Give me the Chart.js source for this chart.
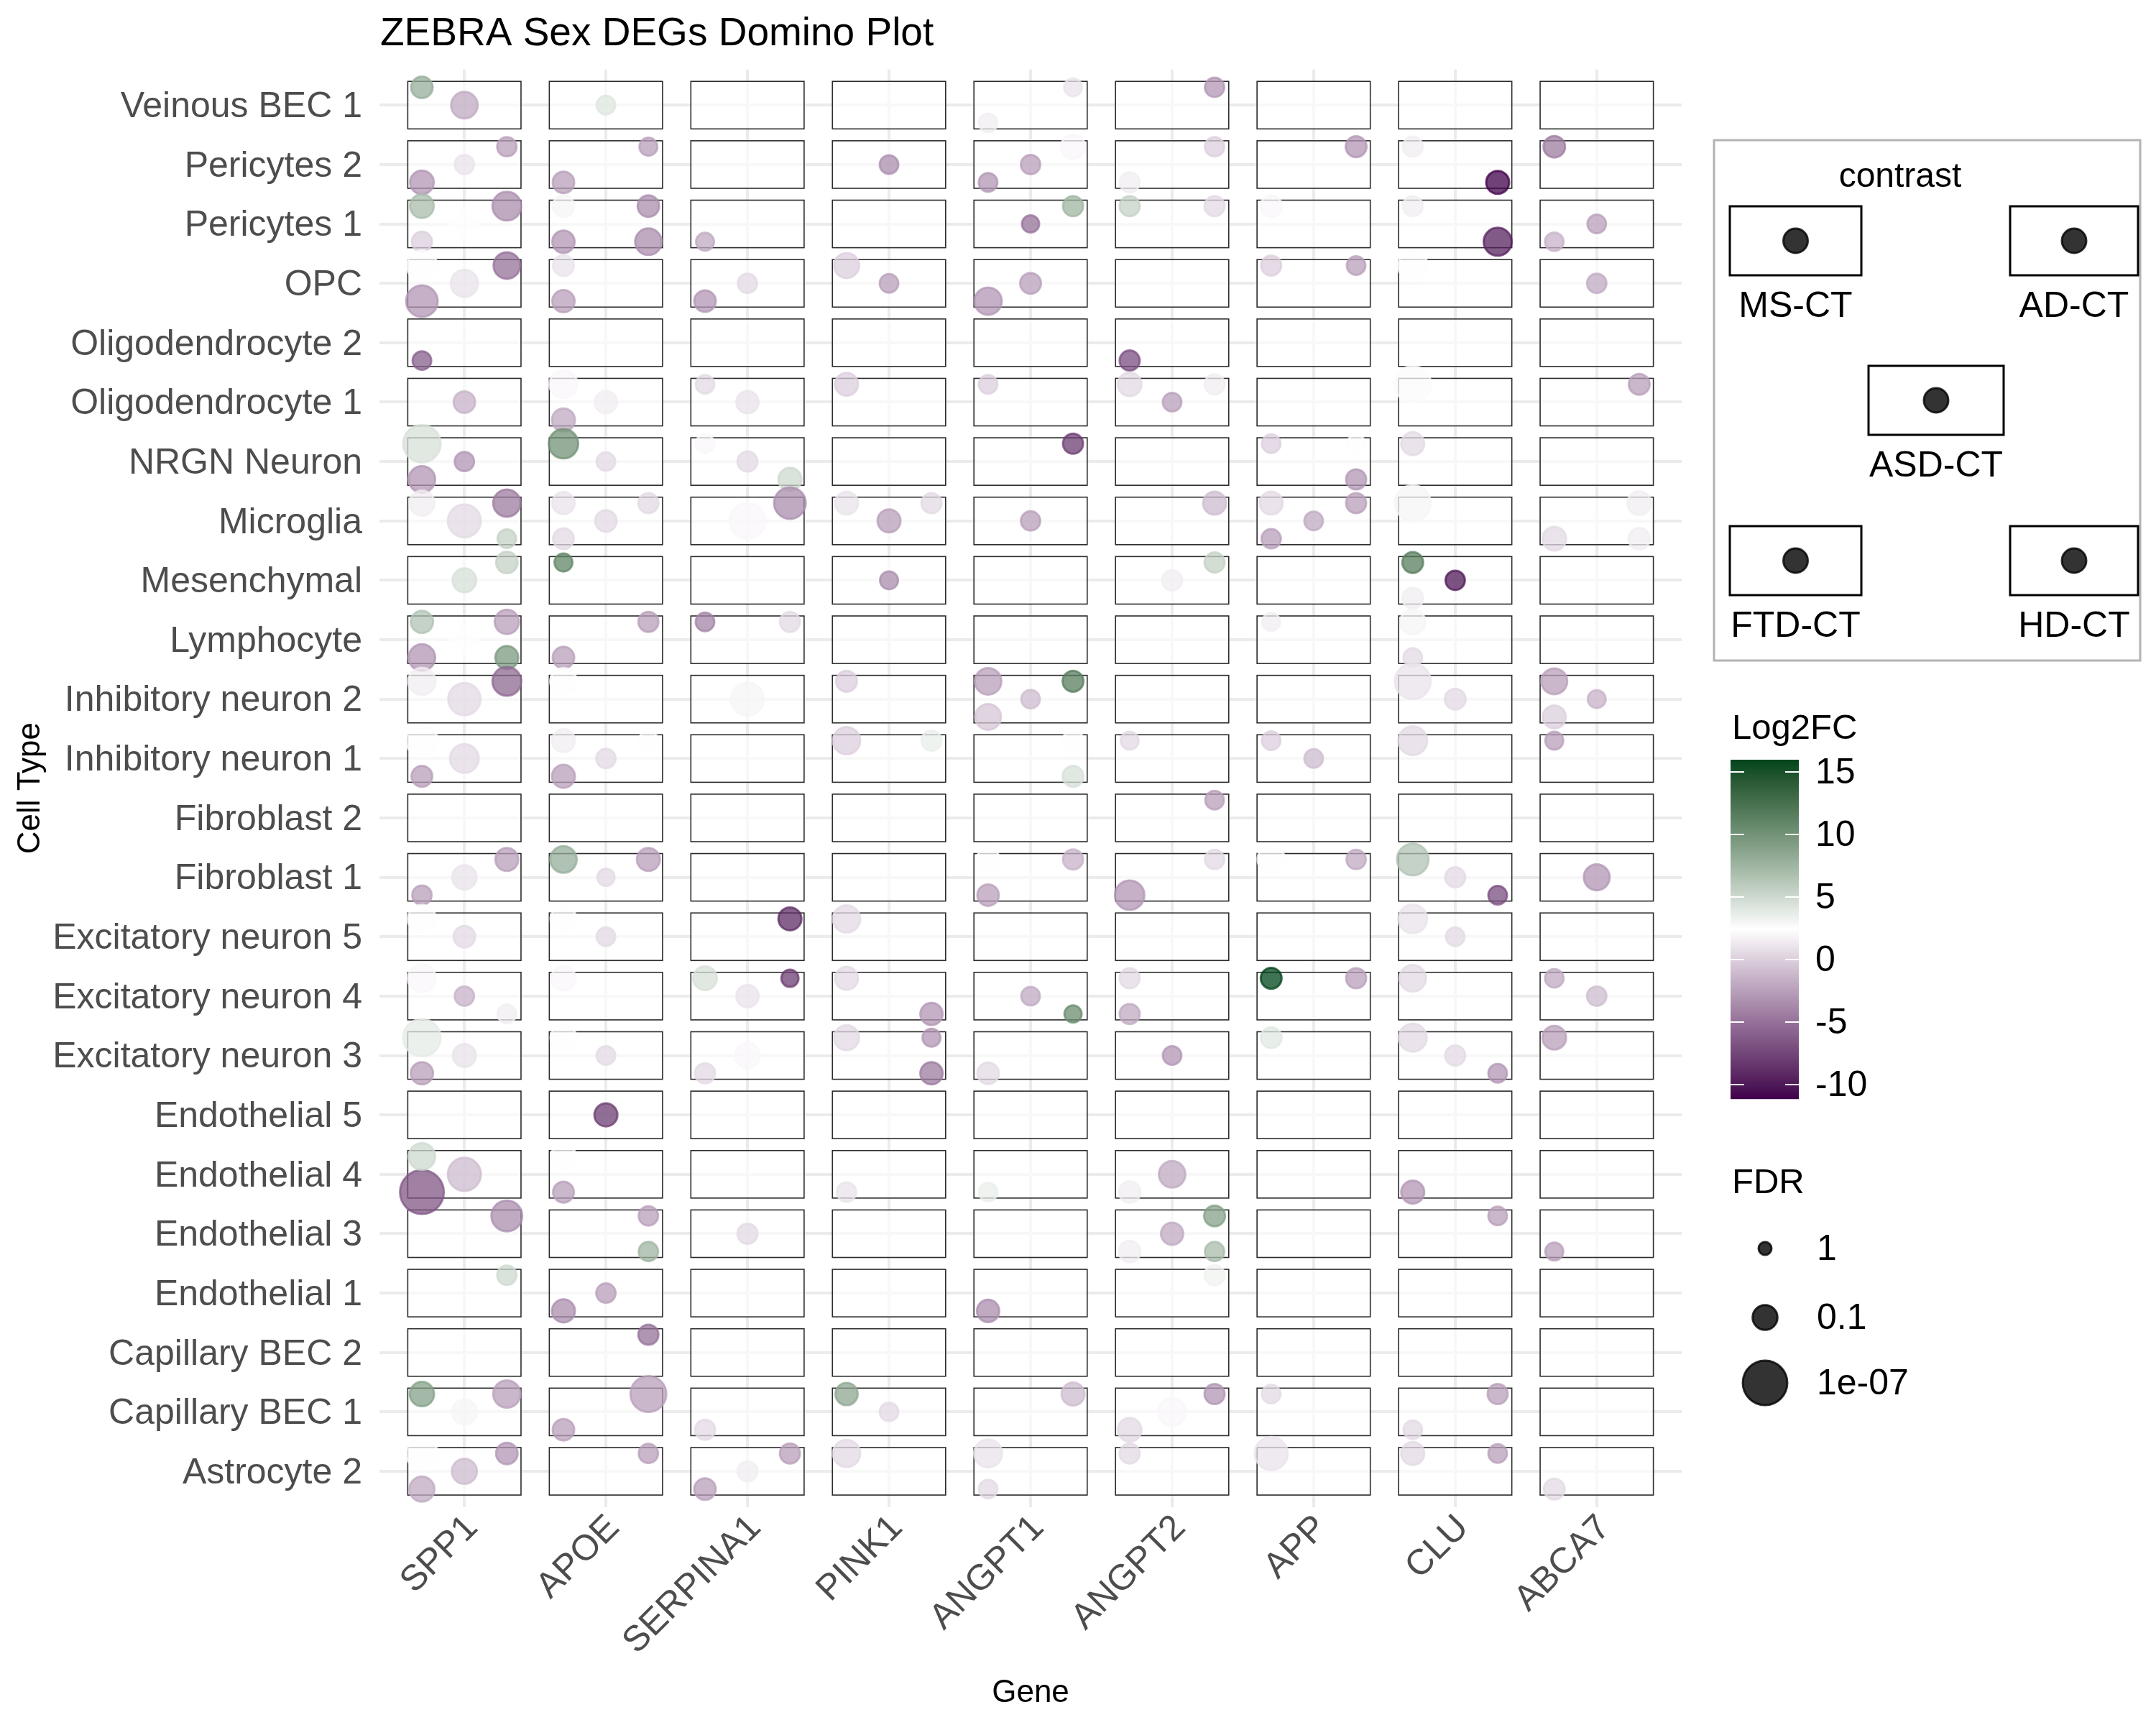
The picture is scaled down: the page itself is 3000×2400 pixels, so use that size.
<!DOCTYPE html>
<html>
<head>
<meta charset="utf-8">
<script src="https://cdn.jsdelivr.net/npm/chart.js@4"></script>
<style>
html,body{margin:0;padding:0;background:#ffffff;}
#wrap{width:3000px;height:2400px;position:relative;}
</style>
</head>
<body>
<div id="wrap"><canvas id="c" width="3000" height="2400"></canvas></div>
<script>
// ---------- DATA ----------
const genes = ['SPP1','APOE','SERPINA1','PINK1','ANGPT1','ANGPT2','APP','CLU','ABCA7'];
// bottom to top
const cellTypes = ['Astrocyte 2','Capillary BEC 1','Capillary BEC 2','Endothelial 1','Endothelial 3','Endothelial 4','Endothelial 5','Excitatory neuron 3','Excitatory neuron 4','Excitatory neuron 5','Fibroblast 1','Fibroblast 2','Inhibitory neuron 1','Inhibitory neuron 2','Lymphocyte','Mesenchymal','Microglia','NRGN Neuron','Oligodendrocyte 1','Oligodendrocyte 2','OPC','Pericytes 1','Pericytes 2','Veinous BEC 1'];
const contrasts = ['MS-CT','AD-CT','ASD-CT','FTD-CT','HD-CT'];
const fcTicks = [15,10,5,0,-5,-10];
const fdrBreaks = [1, 0.1, 1e-7];
const fdrLabels = ['1','0.1','1e-07'];
const fcLimits = [-11.15, 15.98];

// [gene, cell type, Log2FC, FDR]
const msCT = [
 ['SPP1','Veinous BEC 1',8,0.3],
 ['CLU','Pericytes 2',1.5,0.43],['ABCA7','Pericytes 2',-4.5,0.3],
 ['SPP1','Pericytes 1',7,0.15],['APOE','Pericytes 1',3,0.3],['ANGPT2','Pericytes 1',5.5,0.43],['APP','Pericytes 1',2,0.3],['CLU','Pericytes 1',1.5,0.43],
 ['SPP1','OPC',2.5,0.008],['APOE','OPC',1,0.36],['PINK1','OPC',0,0.09],['APP','OPC',0,0.43],['CLU','OPC',2.5,0.012],
 ['APOE','Oligodendrocyte 1',2,0.025],['SERPINA1','Oligodendrocyte 1',0.5,0.59],['PINK1','Oligodendrocyte 1',0,0.19],['ANGPT1','Oligodendrocyte 1',0,0.59],['ANGPT2','Oligodendrocyte 1',0.5,0.15],['CLU','Oligodendrocyte 1',2.2,1.1e-4],
 ['SPP1','NRGN Neuron',4.5,6e-5],['APOE','NRGN Neuron',10,0.012],['SERPINA1','NRGN Neuron',2,0.59],['APP','NRGN Neuron',0,0.59],['CLU','NRGN Neuron',0.5,0.19],
 ['SPP1','Microglia',1.5,0.09],['APOE','Microglia',1,0.24],['PINK1','Microglia',1,0.19],['APP','Microglia',0.5,0.19],['CLU','Microglia',3,2e-4],
 ['APOE','Mesenchymal',11,0.66],['CLU','Mesenchymal',11.5,0.36],
 ['SPP1','Lymphocyte',6.5,0.24],['SERPINA1','Lymphocyte',-4,0.59],['APP','Lymphocyte',1.5,0.66],['CLU','Lymphocyte',3,0.09],
 ['SPP1','Inhibitory neuron 2',1.5,0.035],['APOE','Inhibitory neuron 2',2.5,0.049],['PINK1','Inhibitory neuron 2',0,0.36],['ANGPT1','Inhibitory neuron 2',-2.5,0.049],['CLU','Inhibitory neuron 2',1,2e-4],['ABCA7','Inhibitory neuron 2',-2.5,0.066],
 ['SPP1','Inhibitory neuron 1',2.5,0.0035],['APOE','Inhibitory neuron 1',1.5,0.19],['PINK1','Inhibitory neuron 1',0,0.035],['ANGPT2','Inhibitory neuron 1',0.5,0.66],['APP','Inhibitory neuron 1',0,0.59],['CLU','Inhibitory neuron 1',0.5,0.017],['ABCA7','Inhibitory neuron 1',-2.5,0.66],
 ['APOE','Fibroblast 1',8,0.049],['ANGPT1','Fibroblast 1',2.5,0.19],['APP','Fibroblast 1',2.5,0.035],['CLU','Fibroblast 1',6.5,0.0035],
 ['SPP1','Excitatory neuron 5',2.5,0.025],['APOE','Excitatory neuron 5',2.5,0.066],['PINK1','Excitatory neuron 5',0.5,0.035],['CLU','Excitatory neuron 5',1,0.017],
 ['SPP1','Excitatory neuron 4',2,0.025],['APOE','Excitatory neuron 4',2,0.12],['SERPINA1','Excitatory neuron 4',4.5,0.15],['PINK1','Excitatory neuron 4',0.5,0.19],['ANGPT2','Excitatory neuron 4',0.5,0.43],['APP','Excitatory neuron 4',15.98,0.36],['CLU','Excitatory neuron 4',0.5,0.049],['ABCA7','Excitatory neuron 4',-2,0.59],
 ['SPP1','Excitatory neuron 3',3.8,6e-5],['APOE','Excitatory neuron 3',2.5,0.066],['PINK1','Excitatory neuron 3',0.5,0.09],['APP','Excitatory neuron 3',4,0.36],['CLU','Excitatory neuron 3',0.5,0.025],['ABCA7','Excitatory neuron 3',-2.5,0.15],
 ['SPP1','Endothelial 4',5,0.049],['APOE','Endothelial 4',2.5,0.09],
 ['SPP1','Capillary BEC 1',9,0.12],['PINK1','Capillary BEC 1',8.5,0.24],['APP','Capillary BEC 1',0.5,0.59],
 ['SPP1','Astrocyte 2',2.5,0.0035],['PINK1','Astrocyte 2',0.5,0.035],['ANGPT1','Astrocyte 2',1,0.025],['ANGPT2','Astrocyte 2',0.5,0.43],['APP','Astrocyte 2',1,0.0014],['CLU','Astrocyte 2',0.5,0.19]
];

const adCT = [
 ['ANGPT1','Veinous BEC 1',1,0.66],['ANGPT2','Veinous BEC 1',-3,0.51],
 ['SPP1','Pericytes 2',-2.5,0.51],['APOE','Pericytes 2',-2.5,0.66],['ANGPT1','Pericytes 2',2,0.12],['ANGPT2','Pericytes 2',0,0.51],['APP','Pericytes 2',-3,0.36],
 ['SPP1','Pericytes 1',-3.5,0.017],['APOE','Pericytes 1',-3.5,0.3],['ANGPT1','Pericytes 1',7.5,0.43],['ANGPT2','Pericytes 1',0.5,0.43],
 ['SPP1','OPC',-5,0.049],['APP','OPC',-2.5,0.59],
 ['ANGPT2','Oligodendrocyte 1',1.5,0.43],['ABCA7','Oligodendrocyte 1',-2.5,0.36],
 ['ANGPT1','NRGN Neuron',-8,0.43],['APP','NRGN Neuron',2.5,0.66],
 ['SPP1','Microglia',-4.5,0.035],['APOE','Microglia',0.5,0.43],['SERPINA1','Microglia',-3.5,0.0035],['PINK1','Microglia',0.5,0.43],['ANGPT2','Microglia',-1,0.19],['APP','Microglia',-2.5,0.43],['ABCA7','Microglia',1.5,0.15],
 ['SPP1','Mesenchymal',5.5,0.3],['ANGPT2','Mesenchymal',5.5,0.43],
 ['SPP1','Lymphocyte',-2.5,0.12],['APOE','Lymphocyte',-2.5,0.43],['SERPINA1','Lymphocyte',0.5,0.43],
 ['SPP1','Inhibitory neuron 2',-5.5,0.017],['ANGPT1','Inhibitory neuron 2',11.5,0.36],
 ['APOE','Inhibitory neuron 1',2.5,0.51],['PINK1','Inhibitory neuron 1',3.5,0.43],['ANGPT1','Inhibitory neuron 1',2.5,0.36],
 ['ANGPT2','Fibroblast 2',-2.5,0.59],
 ['SPP1','Fibroblast 1',-2.5,0.19],['APOE','Fibroblast 1',-2.5,0.19],['ANGPT1','Fibroblast 1',-1.5,0.43],['ANGPT2','Fibroblast 1',0.5,0.51],['APP','Fibroblast 1',-2,0.51],
 ['SERPINA1','Excitatory neuron 5',-9,0.19],
 ['SERPINA1','Excitatory neuron 4',-8,0.74],['APP','Excitatory neuron 4',-2.5,0.43],
 ['PINK1','Excitatory neuron 3',-3,0.66],
 ['SPP1','Endothelial 3',-3.5,0.0054],['APOE','Endothelial 3',-2.5,0.51],['ANGPT2','Endothelial 3',9,0.36],['CLU','Endothelial 3',-2.5,0.59],
 ['SPP1','Endothelial 1',5,0.51],['ANGPT2','Endothelial 1',3.2,0.43],
 ['APOE','Capillary BEC 2',-5,0.43],
 ['SPP1','Capillary BEC 1',-2.5,0.035],['APOE','Capillary BEC 1',-2.5,2e-4],['ANGPT1','Capillary BEC 1',-1,0.19],['ANGPT2','Capillary BEC 1',-3,0.43],['CLU','Capillary BEC 1',-2.5,0.43],
 ['SPP1','Astrocyte 2',-3,0.3],['APOE','Astrocyte 2',-2.5,0.51],['SERPINA1','Astrocyte 2',-2.5,0.43],['CLU','Astrocyte 2',-2.5,0.59]
];

const asdCT = [
 ['SPP1','Veinous BEC 1',-2,0.049],['APOE','Veinous BEC 1',4.2,0.59],
 ['SPP1','Pericytes 2',1,0.51],['PINK1','Pericytes 2',-3.5,0.59],['ANGPT1','Pericytes 2',-2.5,0.51],
 ['SPP1','Pericytes 1',2.5,0.017],['ANGPT1','Pericytes 1',-5,0.74],['ABCA7','Pericytes 1',-2.5,0.59],
 ['SPP1','OPC',1,0.035],['SERPINA1','OPC',0.5,0.51],['PINK1','OPC',-2.5,0.59],['ANGPT1','OPC',-2.5,0.36],['ABCA7','OPC',-2,0.51],
 ['SPP1','Oligodendrocyte 1',-1.5,0.3],['APOE','Oligodendrocyte 1',1.5,0.24],['SERPINA1','Oligodendrocyte 1',1,0.24],['ANGPT2','Oligodendrocyte 1',-2.5,0.59],
 ['SPP1','NRGN Neuron',-3,0.51],['APOE','NRGN Neuron',0.5,0.59],['SERPINA1','NRGN Neuron',0.5,0.43],
 ['SPP1','Microglia',0.5,0.0014],['APOE','Microglia',0.5,0.3],['SERPINA1','Microglia',2,2e-4],['PINK1','Microglia',-2.5,0.19],['ANGPT1','Microglia',-2.5,0.51],['APP','Microglia',-2,0.59],
 ['SPP1','Mesenchymal',4.5,0.15],['PINK1','Mesenchymal',-3.5,0.66],['ANGPT2','Mesenchymal',1.5,0.43],['CLU','Mesenchymal',-10,0.51],
 ['SPP1','Lymphocyte',2.5,0.025],
 ['SPP1','Inhibitory neuron 2',0.5,0.0022],['SERPINA1','Inhibitory neuron 2',3,0.0014],['ANGPT1','Inhibitory neuron 2',-1,0.59],['CLU','Inhibitory neuron 2',0.5,0.36],['ABCA7','Inhibitory neuron 2',-1.5,0.66],
 ['SPP1','Inhibitory neuron 1',0.5,0.017],['APOE','Inhibitory neuron 1',0.5,0.51],['APP','Inhibitory neuron 1',-1,0.59],
 ['SPP1','Fibroblast 1',1,0.12],['APOE','Fibroblast 1',0.5,0.74],['CLU','Fibroblast 1',0.5,0.43],['ABCA7','Fibroblast 1',-3,0.066],
 ['SPP1','Excitatory neuron 5',0.5,0.3],['APOE','Excitatory neuron 5',0.5,0.59],['CLU','Excitatory neuron 5',0.5,0.59],
 ['SPP1','Excitatory neuron 4',-1.5,0.51],['SERPINA1','Excitatory neuron 4',1,0.24],['ANGPT1','Excitatory neuron 4',-2,0.59],['ABCA7','Excitatory neuron 4',-1,0.51],
 ['SPP1','Excitatory neuron 3',1,0.19],['APOE','Excitatory neuron 3',0.5,0.59],['SERPINA1','Excitatory neuron 3',2,0.09],['ANGPT2','Excitatory neuron 3',-3,0.59],['CLU','Excitatory neuron 3',0.5,0.43],
 ['APOE','Endothelial 5',-8,0.19],
 ['SPP1','Endothelial 4',-1,0.0014],['ANGPT2','Endothelial 4',-2,0.049],
 ['SERPINA1','Endothelial 3',0.5,0.43],['ANGPT2','Endothelial 3',-2,0.24],
 ['APOE','Endothelial 1',-2.5,0.51],
 ['SPP1','Capillary BEC 1',3,0.09],['PINK1','Capillary BEC 1',0.5,0.59],['ANGPT2','Capillary BEC 1',2,0.025],
 ['SPP1','Astrocyte 2',-1,0.09],['SERPINA1','Astrocyte 2',1.5,0.43]
];

const ftdCT = [
 ['ANGPT1','Veinous BEC 1',1.5,0.59],
 ['SPP1','Pericytes 2',-3,0.15],['APOE','Pericytes 2',-2.5,0.3],['ANGPT1','Pericytes 2',-3,0.59],['ANGPT2','Pericytes 2',1.5,0.43],
 ['SPP1','Pericytes 1',0,0.43],['APOE','Pericytes 1',-3,0.24],['SERPINA1','Pericytes 1',-2,0.66],['ABCA7','Pericytes 1',-1.5,0.59],
 ['SPP1','OPC',-3,0.0035],['APOE','OPC',-2.5,0.24],['SERPINA1','OPC',-3,0.3],['ANGPT1','OPC',-3,0.035],
 ['SPP1','Oligodendrocyte 2',-6,0.59],['ANGPT2','Oligodendrocyte 2',-7,0.43],
 ['APOE','Oligodendrocyte 1',-2,0.19],
 ['SPP1','NRGN Neuron',-3,0.049],
 ['APOE','Microglia',0.5,0.36],['APP','Microglia',-2.5,0.51],['ABCA7','Microglia',0.5,0.15],
 ['CLU','Mesenchymal',1.5,0.36],
 ['SPP1','Lymphocyte',-3,0.049],['APOE','Lymphocyte',-2.5,0.3],['CLU','Lymphocyte',0.5,0.59],
 ['ANGPT1','Inhibitory neuron 2',-0.5,0.066],['ABCA7','Inhibitory neuron 2',0,0.19],
 ['SPP1','Inhibitory neuron 1',-2.5,0.36],['APOE','Inhibitory neuron 1',-2.5,0.19],
 ['SPP1','Fibroblast 1',-2.5,0.51],['ANGPT1','Fibroblast 1',-2.5,0.3],['ANGPT2','Fibroblast 1',-3,0.012],
 ['ANGPT2','Excitatory neuron 4',-2,0.43],
 ['SPP1','Excitatory neuron 3',-2.5,0.24],['SERPINA1','Excitatory neuron 3',0.5,0.43],['ANGPT1','Excitatory neuron 3',0.5,0.3],
 ['SPP1','Endothelial 4',-6.5,2e-7],['APOE','Endothelial 4',-2.5,0.36],['PINK1','Endothelial 4',1,0.51],['ANGPT1','Endothelial 4',3.5,0.59],['ANGPT2','Endothelial 4',1.5,0.3],['CLU','Endothelial 4',-3,0.19],
 ['ANGPT2','Endothelial 3',1.5,0.3],['ABCA7','Endothelial 3',-2.5,0.66],
 ['APOE','Endothelial 1',-3.5,0.19],['ANGPT1','Endothelial 1',-3.5,0.24],
 ['APOE','Capillary BEC 1',-2.5,0.3],['SERPINA1','Capillary BEC 1',0.5,0.43],['ANGPT2','Capillary BEC 1',0.5,0.15],['CLU','Capillary BEC 1',0.5,0.59],
 ['SPP1','Astrocyte 2',-2,0.09],['SERPINA1','Astrocyte 2',-2.5,0.3],['ANGPT1','Astrocyte 2',0.5,0.59],['ABCA7','Astrocyte 2',0.5,0.36]
];

const hdCT = [
 ['CLU','Pericytes 2',-11.15,0.19],
 ['APOE','Pericytes 1',-3.5,0.049],['CLU','Pericytes 1',-9.5,0.025],
 ['SERPINA1','NRGN Neuron',5,0.19],['APP','NRGN Neuron',-3,0.43],
 ['SPP1','Microglia',5.5,0.59],['ABCA7','Microglia',1.5,0.3],
 ['SPP1','Lymphocyte',9.5,0.19],
 ['ANGPT1','Inhibitory neuron 1',4.5,0.36],
 ['CLU','Fibroblast 1',-7,0.59],
 ['SPP1','Excitatory neuron 4',1.5,0.59],['PINK1','Excitatory neuron 4',-3,0.24],['ANGPT1','Excitatory neuron 4',10.5,0.74],
 ['PINK1','Excitatory neuron 3',-4.5,0.24],['CLU','Excitatory neuron 3',-3,0.59],
 ['APOE','Endothelial 3',7.5,0.51],['ANGPT2','Endothelial 3',7,0.51]
];

// ---------- STYLE / LAYOUT ----------
const FONT = '"Liberation Sans", Arial, Helvetica, sans-serif';
const offsets = {'MS-CT':[-0.3,0.3],'AD-CT':[0.3,0.3],'ASD-CT':[0,0],'FTD-CT':[-0.3,-0.3],'HD-CT':[0.3,-0.3]};
const contrastData = {'MS-CT':msCT,'AD-CT':adCT,'ASD-CT':asdCT,'FTD-CT':ftdCT,'HD-CT':hdCT};
const ALPHA = 0.75, BW = 3;

// colour scale (Lab interpolation low -> white -> high)
function hex2rgb(h){return [parseInt(h.slice(1,3),16),parseInt(h.slice(3,5),16),parseInt(h.slice(5,7),16)];}
function lin(c){c/=255;return c<=0.04045?c/12.92:Math.pow((c+0.055)/1.055,2.4);}
function gam(c){c=c<=0.0031308?12.92*c:1.055*Math.pow(c,1/2.4)-0.055;return Math.max(0,Math.min(255,Math.round(c*255)));}
function rgb2lab(rgb){const R=lin(rgb[0]),G=lin(rgb[1]),B=lin(rgb[2]);
 const X=(0.4124*R+0.3576*G+0.1805*B)/0.95047,Y=(0.2126*R+0.7152*G+0.0722*B),Z=(0.0193*R+0.1192*G+0.9505*B)/1.08883;
 const f=t=>t>0.008856?Math.cbrt(t):7.787*t+16/116;const fx=f(X),fy=f(Y),fz=f(Z);
 return [116*fy-16,500*(fx-fy),200*(fy-fz)];}
function lab2rgb(l){const fy=(l[0]+16)/116,fx=l[1]/500+fy,fz=fy-l[2]/200;
 const fi=t=>{const t3=t*t*t;return t3>0.008856?t3:(t-16/116)/7.787;};
 const X=0.95047*fi(fx),Y=fi(fy),Z=1.08883*fi(fz);
 return [gam(3.2406*X-1.5372*Y-0.4986*Z),gam(-0.9689*X+1.8758*Y+0.0415*Z),gam(0.0557*X-0.2040*Y+1.0570*Z)];}
const LOW=rgb2lab(hex2rgb('#40004B')),MID=rgb2lab([255,255,255]),HIGH=rgb2lab(hex2rgb('#00441B'));
function fcColor(v){
 let t=(v-fcLimits[0])/(fcLimits[1]-fcLimits[0]);t=Math.max(0,Math.min(1,t));
 let a,b,s;if(t<0.5){a=LOW;b=MID;s=t/0.5;}else{a=MID;b=HIGH;s=(t-0.5)/0.5;}
 return lab2rgb([a[0]+(b[0]-a[0])*s,a[1]+(b[1]-a[1])*s,a[2]+(b[2]-a[2])*s]);}
function rgba(c,a){return 'rgba('+c[0]+','+c[1]+','+c[2]+','+a+')';}
function fdrDiameter(f){return 21+16.6*Math.sqrt(Math.max(0,-Math.log10(f)));}

const datasets = contrasts.map(ct=>({
  label: ct,
  data: contrastData[ct].map(r=>({x: genes.indexOf(r[0])+1+offsets[ct][0], y: cellTypes.indexOf(r[1])+1+offsets[ct][1], fc:r[2], fdr:r[3]})),
  pointRadius: c=>c.raw?fdrDiameter(c.raw.fdr)/2-BW/2:0,
  pointHoverRadius: c=>c.raw?fdrDiameter(c.raw.fdr)/2-BW/2:0,
  backgroundColor: c=>c.raw?rgba(fcColor(c.raw.fc),ALPHA):'transparent',
  borderColor: c=>c.raw?rgba(fcColor(c.raw.fc),ALPHA):'transparent',
  borderWidth: BW,
  pointBorderWidth: BW
}));

const boxesPlugin = {
 id:'boxes',
 beforeDatasetsDraw(chart){
  const ctx=chart.ctx,xs=chart.scales.x,ys=chart.scales.y;
  ctx.save();
  for(let i=1;i<=genes.length;i++){
   for(let j=1;j<=cellTypes.length;j++){
    const x0=xs.getPixelForValue(i-0.4),x1=xs.getPixelForValue(i+0.4);
    const y0=ys.getPixelForValue(j+0.4),y1=ys.getPixelForValue(j-0.4);
    ctx.fillStyle='rgba(255,255,255,0.65)';
    ctx.fillRect(x0,y0,x1-x0,y1-y0);
    ctx.strokeStyle='#2b2b2b';ctx.lineWidth=1.6;
    ctx.strokeRect(x0,y0,x1-x0,y1-y0);
   }
  }
  ctx.restore();
 }
};

function dot(ctx,x,y,d){
 ctx.beginPath();ctx.arc(x,y,d/2-BW/2,0,Math.PI*2);
 ctx.fillStyle='rgba(0,0,0,0.8)';ctx.fill();
 ctx.lineWidth=BW;ctx.strokeStyle='rgba(0,0,0,0.8)';ctx.stroke();
}

const decorPlugin = {
 id:'decor',
 afterDraw(chart){
  const ctx=chart.ctx;
  ctx.save();
  // title
  ctx.fillStyle='#000';ctx.font='55px '+FONT;ctx.textAlign='left';ctx.textBaseline='alphabetic';
  ctx.fillText('ZEBRA Sex DEGs Domino Plot',529,63);
  // contrast legend
  ctx.strokeStyle='#B3B3B3';ctx.lineWidth=3;ctx.strokeRect(2385,195,593,724);
  ctx.font='48px '+FONT;ctx.textAlign='center';ctx.textBaseline='middle';ctx.fillStyle='#000';
  ctx.fillText('contrast',2644,247);
  const keys=[['MS-CT',2407,287,183],['AD-CT',2797,287,178],['ASD-CT',2600,509,188],['FTD-CT',2407,732,183],['HD-CT',2797,732,178]];
  keys.forEach(k=>{
   ctx.fillStyle='#fff';ctx.fillRect(k[1],k[2],k[3],96);
   ctx.strokeStyle='#000';ctx.lineWidth=3;ctx.strokeRect(k[1],k[2],k[3],96);
   dot(ctx,k[1]+k[3]/2,k[2]+48,37);
   ctx.fillStyle='#000';ctx.font='50px '+FONT;ctx.textAlign='center';ctx.textBaseline='middle';
   ctx.fillText(k[0],k[1]+k[3]/2,k[2]+140);
  });
  // colorbar
  const cbX=2408,cbW=95,cbTop=1057,cbBot=1529;
  const vy=v=>cbTop+(fcLimits[1]-v)/(fcLimits[1]-fcLimits[0])*(cbBot-cbTop);
  for(let y=cbTop;y<cbBot;y++){
   const v=fcLimits[1]-(y+0.5-cbTop)/(cbBot-cbTop)*(fcLimits[1]-fcLimits[0]);
   ctx.fillStyle=rgba(fcColor(v),1);ctx.fillRect(cbX,y,cbW,1.2);
  }
  ctx.strokeStyle='#fff';ctx.lineWidth=2;
  ctx.font='50px '+FONT;ctx.textAlign='left';ctx.textBaseline='middle';
  fcTicks.forEach(t=>{
   const y=vy(t);
   ctx.beginPath();ctx.moveTo(cbX,y);ctx.lineTo(cbX+19,y);ctx.moveTo(cbX+cbW-19,y);ctx.lineTo(cbX+cbW,y);ctx.stroke();
   ctx.fillStyle='#000';ctx.fillText(String(t),2526,y+2);
  });
  ctx.fillStyle='#000';ctx.font='49px '+FONT;
  ctx.fillText('Log2FC',2410,1014);
  // FDR legend
  ctx.fillText('FDR',2410,1646);
  const fy=[1737,1833,1924];
  fdrBreaks.forEach((f,i)=>{
   dot(ctx,2456,fy[i],fdrDiameter(f));
   ctx.fillStyle='#000';ctx.font='50px '+FONT;ctx.textAlign='left';ctx.textBaseline='middle';
   ctx.fillText(fdrLabels[i],2528,fy[i]+2);
  });
  ctx.restore();
 }
};

new Chart(document.getElementById('c'),{
 type:'scatter',
 data:{datasets},
 plugins:[boxesPlugin,decorPlugin],
 options:{
  responsive:false,animation:false,devicePixelRatio:1,
  events:[],
  layout:{padding:{left:0,top:96.7,right:660,bottom:0}},
  plugins:{legend:{display:false},tooltip:{enabled:false},title:{display:false}},
  scales:{
   x:{type:'linear',min:0.4,max:9.6,
    afterBuildTicks:s=>{s.ticks=genes.map((g,i)=>({value:i+1}));},
    afterFit:s=>{s.height=2400-2096.6;},
    grid:{color:'#EBEBEB',lineWidth:4,drawTicks:false},
    border:{display:false},
    ticks:{autoSkip:false,maxRotation:45,minRotation:45,padding:0,labelOffset:11,color:'#4D4D4D',font:{family:FONT,size:50},callback:v=>genes[Math.round(v)-1]||''},
    title:{display:true,text:'Gene',color:'#000',font:{family:FONT,size:44},padding:{top:0,bottom:18}}
   },
   y:{type:'linear',min:0.4,max:24.6,
    afterBuildTicks:s=>{s.ticks=cellTypes.map((c,i)=>({value:i+1}));},
    afterFit:s=>{s.width=528;},
    grid:{color:'#EBEBEB',lineWidth:4,drawTicks:false},
    border:{display:false},
    ticks:{autoSkip:false,padding:24,labelOffset:3,color:'#4D4D4D',font:{family:FONT,size:50},callback:v=>cellTypes[Math.round(v)-1]||''},
    title:{display:true,text:'Cell Type',color:'#000',font:{family:FONT,size:44},padding:{top:16,bottom:0}}
   }
  }
 }
});
</script>
</body>
</html>
